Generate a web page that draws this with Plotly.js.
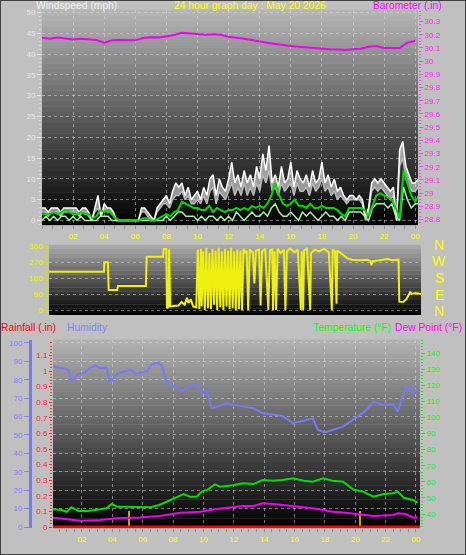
<!DOCTYPE html>
<html><head><meta charset="utf-8">
<script src="https://cdn.plot.ly/plotly-3.0.1.min.js"></script>
<style>html,body{margin:0;padding:0;background:#c0c0c0;}#chart{width:466px;height:555px;}</style>
</head><body><div id="chart"></div>
<script>
// ---------------- DATA ----------------
const hourTickVals = [2,4,6,8,10,12,14,16,18,20,22,24];
const hourTickText = ['02','04','06','08','10','12','14','16','18','20','22','00'];

// wind samples every 0.2 h starting at 00:00
const windStep = 0.2;
const windGust = [3,3,2,3,3, 3,2,3,3,3, 3,3,2,3,3, 2,0,3,6,1, 4,3,3,2,0, 0,0,0,0,0,
  0,0,3,3,2, 1,0,3,4,5, 6,4,7,9,8, 9,6,8,5,6, 7,5,8,6,10, 11,6,10,8,7,
  10,14,9,11,8, 12,9,11,8,13, 10,16,12,18,9, 11,8,13,9,10, 14,8,12,10,9, 11,8,12,9,10,
  14,9,11,8,10, 7,8,6,5,6, 6,5,6,5,1, 3,9,10,9,10, 9,8,7,8,0, 17,19,13,11,9, 9,10];
const windSpeed = [2,2,1,2,2, 2,1,2,2,2, 2,2,1,2,2, 1,0,2,3,1, 3,2,2,1,0, 0,0,0,0,0,
  0,0,2,2,1, 0,0,2,3,4, 4,3,5,6,6, 7,5,6,4,4, 5,4,6,4,7, 8,4,7,6,5,
  7,9,6,8,6, 9,6,8,6,9, 7,11,9,12,7, 8,6,9,7,8, 9,6,9,7,7, 8,6,9,7,8,
  10,7,8,6,7, 5,6,5,4,5, 5,5,5,4,0, 2,7,8,7,8, 7,6,5,6,0, 13,15,10,8,7, 7,8];
// average & minimum every 0.25 h
const avgStep = 0.25;
const windAvg = [1.5,1.5,1.5,2, 1.5,2,2.5,2, 1.5,1.5,2,1.5, 1.5,0.5,1,2.5, 2,2.5,1.5,0.5, 0,0,0,0,
  0,0,0.5,0.5, 0,0,0.5,1, 1.5,1,2,2.5, 4.5,4,3.5,3, 3,2.5,2.5,3.5, 2,3,2.5,2,
  2.5,2.5,3,2.5, 3,2.5,3.5,3, 3.5,3,4,6, 9,6,4,3.5, 4,5,3.5,3.5, 3,4,3,3,
  3.5,3,3,3, 2.5,1.5,1,3, 3,3,3,2.5, 1,3.5,6,6.5, 6,5.5,5,3, 0.5,12,9,6, 4.5,6];
const windMin = [0,1,0,1, 0,1,1,0, 1,0,1,0, 0,0,0,1, 1,1,0,0, 0,0,0,0,
  0,0,0,0, 0,0,0,0, 1,0,1,2, 2,1,1,1, 0,1,0,1, 1,0,1,0,
  1,0,2,1, 0,1,2,1, 1,2,1,3, 4,2,1,1, 2,1,0,2, 1,2,1,0,
  1,2,1,1, 0,1,0,2, 2,2,2,1, 0,3,4,4, 4,3,4,1, 0,8,5,3, 4,4];

// barometer every 0.5 h (inHg)
const baroStep = 0.5;
const baro = [30.177,30.17,30.18,30.175,30.165,30.17,30.167,30.16,30.14,30.158,30.16,30.158,30.158,
  30.175,30.182,30.18,30.19,30.198,30.215,30.21,30.205,30.2,30.205,30.2,30.185,30.18,30.17,30.16,
  30.148,30.14,30.13,30.12,30.115,30.11,30.105,30.095,30.092,30.09,30.088,30.085,30.09,30.095,
  30.11,30.115,30.1,30.1,30.1,30.14,30.155];
const baroTickVals = [28.8,28.9,29,29.1,29.2,29.3,29.4,29.5,29.6,29.7,29.8,29.9,30,30.1,30.2,30.3];
const baroTickText = ['28.8','28.9','29','29.1','29.2','29.3','29.4','29.5','29.6','29.7','29.8','29.9','30','30.1','30.2','30.3'];

// wind direction (degrees)
const dirHours = [0.45,4.0,4.02,4.25,4.3,4.85,4.9,6.7,6.75,7.8,7.85,8.02,8.06,8.15,8.2,8.27,8.5,8.8,9.0,9.2,9.35,9.45,9.6,9.75,9.95,
  10.05,10.15,10.25,10.3,10.4,10.5,10.6,10.7,10.8,10.9,11.0,11.1,11.2,11.3,11.4,11.5,11.6,11.7,11.8,11.9,
  12.0,12.1,12.2,12.3,12.4,12.5,12.6,12.7,12.8,12.9,13.0,13.1,13.2,13.3,13.4,13.6,13.7,13.8,14.0,14.1,14.2,14.4,
  14.6,14.7,14.85,14.9,15.0,15.1,15.2,15.4,15.6,15.7,15.8,16.0,16.3,16.5,16.7,16.75,16.85,16.9,17.1,17.3,17.35,
  17.6,17.9,18.2,18.5,18.7,18.75,18.9,19.0,19.05,19.3,19.5,19.7,20.0,20.5,21.0,21.2,21.25,21.35,21.7,22.0,22.3,
  22.6,22.95,23.0,23.05,23.3,23.5,23.75,23.85,24.1,24.45];
const dirDeg = [215,215,268,268,112,112,135,135,300,300,343,343,10,18,340,20,22,25,45,30,68,40,60,20,15,
  340,5,345,20,330,0,350,10,320,5,345,30,335,0,350,15,330,0,345,20,
  335,5,350,10,330,0,340,5,335,0,345,320,335,0,340,325,150,335,340,25,330,345,
  0,335,340,0,330,0,345,320,340,0,330,345,325,340,0,330,0,335,345,0,320,
  340,330,345,325,0,340,330,35,335,320,305,290,283,280,282,275,253,275,280,283,287,
  280,283,283,47,45,60,100,90,95,90];
const dirTickVals = [0,90,180,270,360];
const compassText = ['N','W','S','E','N'];   // top to bottom

// bottom panel
const humHours = [0.1,0.77,1.1,1.3,1.76,2.2,2.5,2.86,3.2,3.6,3.85,4.2,4.7,5.2,5.6,5.9,6.3,6.6,7.0,7.25,7.6,7.9,8.6,9.2,9.56,9.9,10.2,10.55,10.9,11.5,
  11.95,12.6,13.3,13.9,14.6,15.2,15.9,16.6,17.2,17.55,18.0,18.5,19.2,19.85,20.7,21.2,21.8,22.5,22.8,23.3,23.6,23.8,24.1];
const humidity = [87.1,86.3,85.3,79.3,83,84,86.3,87.7,86.3,86.6,78,82.6,84.4,85.3,83,84,84.8,88.4,89.3,88,78,77.2,73.9,76.8,77.5,72.6,74.5,64.5,65.4,67.2,
  66.5,65.4,64.5,61.8,60.9,60.3,56.4,57.6,59,52.7,51.4,52.7,54.5,58.2,63.2,68.1,66.3,66.7,62.7,75.7,76.3,72.7,75];
const tempHours = [0.1,0.66,1.0,1.3,1.76,2.4,3.2,3.6,3.96,4.3,4.9,5.8,6.5,7.1,7.8,8.2,8.7,9.1,9.55,9.9,10.3,10.75,11.1,11.95,
  12.6,13.3,13.9,14.6,15.2,15.9,16.6,17.2,17.9,18.5,19.2,19.85,20.5,21.2,21.8,22.5,22.8,23.2,23.8,24.1];
const temperature = [42.9,42.5,41.4,44.2,41.9,41.9,42.9,43.5,46.2,44.5,44.5,44.2,44.2,45.6,48.7,50.1,52.4,50.7,50.7,53.9,55.3,58.4,57,57.9,
  59.1,58.6,61.1,60.7,61.1,62.2,60.7,60.1,62.2,60.7,60.1,55.3,53.9,50.7,52.2,52.9,53.9,50.1,48.7,47];
const dewHours = [0.1,1.0,1.9,3.2,4.3,5.8,7.1,8.5,9.8,10.75,11.95,12.6,13.3,13.9,14.6,15.2,15.9,16.6,17.2,17.9,18.5,19.2,19.85,20.5,21.2,21.8,22.5,22.8,23.3,23.8,24.1];
const dewPoint = [37.7,36.7,35.8,36.3,37.3,37.9,38.8,40.8,41.4,42.9,44.5,45,45,46.6,46.2,45.6,45,44.2,43.5,42.5,41.4,41,40.4,39.4,38.8,39,39.4,40.4,40,37.9,37.9];
const rainTotalHours = [0,24.3];
const rainTotal = [0,0];
const rainRateHours = [5.08,20.3];
const rainRate = [0.1,0.1];
const humTicks = [0,10,20,30,40,50,60,70,80,90,100];
const rainTickVals = [0,0.1,0.2,0.3,0.4,0.5,0.6,0.7,0.8,0.9,1,1.1,1.2];
const rainTickText = ['0','0.1','0.2','0.3','0.4','0.5','0.6','0.7','0.8','0.9','1','1.1','1.2'];
const tempTicks = [40,50,60,70,80,90,100,110,120,130,140];

// ---------------- HELPERS ----------------
const W = 466, H = 555;
const px = v => v / W;
const py = v => 1 - v / H;
const hoursFor = (arr, step) => arr.map((_, i) => +(i * step).toFixed(3));
const FONT = 'Liberation Sans, Arial, sans-serif';
const GRID = 'rgba(215,215,215,0.55)';

function gradient(xref, yref, topV, botV, n) {
  const s = [];
  for (let i = 0; i < n; i++) {
    const v = Math.round(botV + (topV - botV) * (i + 0.5) / n);
    s.push({type:'rect', xref:xref, yref:yref, x0:0, x1:1, y0:i/n, y1:(i+1)/n + 0.002,
      fillcolor:`rgb(${v},${v},${v})`, line:{width:0}, layer:'below'});
  }
  return s;
}

// ---------------- TRACES ----------------
const traces = [
  {x: hoursFor(windSpeed, windStep), y: windSpeed, type:'scatter', mode:'lines', xaxis:'x', yaxis:'y',
   line:{color:'#b8b8b8', width:1.5}, hoverinfo:'skip'},
  {x: hoursFor(windGust, windStep), y: windGust, type:'scatter', mode:'lines', xaxis:'x', yaxis:'y',
   line:{color:'#ffffff', width:1.5}, fill:'tonexty', fillcolor:'rgba(235,235,235,0.6)', hoverinfo:'skip'},
  {x: hoursFor(windMin, avgStep), y: windMin, type:'scatter', mode:'lines', xaxis:'x', yaxis:'y',
   line:{color:'#a8f0a8', width:1.5}, hoverinfo:'skip'},
  {x: hoursFor(windAvg, avgStep), y: windAvg, type:'scatter', mode:'lines', xaxis:'x', yaxis:'y',
   line:{color:'#00d800', width:2}, hoverinfo:'skip'},
  {x: hoursFor(baro, baroStep), y: baro, type:'scatter', mode:'lines', xaxis:'x', yaxis:'y2',
   line:{color:'#f000f0', width:2}, hoverinfo:'skip'},
  {x: dirHours, y: dirDeg, type:'scatter', mode:'lines', xaxis:'x2', yaxis:'y3',
   line:{color:'#f0f010', width:2}, hoverinfo:'skip'},
  {x: humHours, y: humidity, type:'scatter', mode:'lines', xaxis:'x3', yaxis:'y4',
   line:{color:'#7878f8', width:2}, hoverinfo:'skip'},
  {x: rainRateHours, y: rainRate, type:'bar', xaxis:'x3', yaxis:'y5', width:0.13,
   marker:{color:'#c0a800', line:{width:0}}, hoverinfo:'skip'},
  {x: rainTotalHours, y: rainTotal, type:'scatter', mode:'lines', xaxis:'x3', yaxis:'y5',
   line:{color:'#ff0000', width:3}, hoverinfo:'skip', cliponaxis:false},
  {x: tempHours, y: temperature, type:'scatter', mode:'lines', xaxis:'x3', yaxis:'y6',
   line:{color:'#00e000', width:2}, hoverinfo:'skip'},
  {x: dewHours, y: dewPoint, type:'scatter', mode:'lines', xaxis:'x3', yaxis:'y6',
   line:{color:'#f000f0', width:2}, hoverinfo:'skip'}
];

// ---------------- LAYOUT ----------------
const tickF = c => ({family:FONT, size:8, color:c});
const xCommon = {
  tickmode:'array', tickvals:hourTickVals, ticktext:hourTickText, tickfont:tickF('#ffff00'),
  ticks:'outside', ticklen:3, tickcolor:'#909090', showgrid:true, gridcolor:GRID, griddash:'dot',
  gridwidth:1, zeroline:false, showline:true, linecolor:'#a8a8a8', linewidth:1, fixedrange:true
};

const shapes = [].concat(
  gradient('x domain','y domain',182,0,40),
  gradient('x2 domain','y3 domain',172,4,16),
  gradient('x3 domain','y4 domain',178,0,40),
  [{type:'rect', xref:'paper', yref:'paper', x0:0, x1:1, y0:0, y1:1, line:{color:'#404040', width:2}, fillcolor:'rgba(0,0,0,0)'}]
);

const ann = (text, x, y, color, size, anchor) => ({text:text, x:px(x), y:py(y), xref:'paper', yref:'paper',
  xanchor:anchor || 'left', yanchor:'middle', showarrow:false, font:{family:FONT, size:size, color:color}});

const TS = 10.3;
const annotations = [
  ann('Windspeed (mph)', 34, 5, '#f0f0f0', TS),
  ann('24 hour graph day : May 20 2026', 172, 5, '#ffff00', TS),
  ann('Barometer (.in)', 371, 5, '#ff00ff', TS),
  ann('Rainfall (.in)', -1, 327, '#ff0000', TS),
  ann('Humidity', 65, 327, '#8080ff', TS),
  ann('Temperature (°F)', 311, 327, '#00ff00', TS),
  ann('Dew Point (°F)', 393, 327, '#ff00ff', TS)
];
const compassY = [245, 261, 278, 295, 311];
compassText.forEach((t, i) => annotations.push(ann(t, 439, compassY[i], '#ffff00', 14, 'center')));

const layout = {
  width: W, height: H, margin:{l:0, r:0, t:0, b:0},
  paper_bgcolor:'#c0c0c0', plot_bgcolor:'rgba(0,0,0,0)', showlegend:false,
  font:{family:FONT, size:8},
  xaxis: Object.assign({}, xCommon, {domain:[px(42), px(418)], range:[0, 24.18], anchor:'y',
    minor:{dtick:2/3, tick0:0, ticklen:3, tickcolor:'#909090', showgrid:false}}),
  yaxis: {domain:[py(225), py(10)], range:[-1.1, 50.6], anchor:'x', tickmode:'linear', tick0:0, dtick:5,
    tickfont:tickF('#e8e8e8'), ticks:'outside', ticklen:4, tickcolor:'#e8e8e8',
    minor:{dtick:1, ticklen:2, tickcolor:'#d8d8d8', showgrid:false},
    showgrid:true, gridcolor:GRID, griddash:'dot', zeroline:false, showline:false, fixedrange:true},
  yaxis2: {overlaying:'y', side:'right', anchor:'x', range:[28.758, 30.388], tickmode:'array',
    tickvals:baroTickVals, ticktext:baroTickText, tickfont:tickF('#ff20ff'), ticks:'outside', ticklen:4,
    tickcolor:'#ff40ff', minor:{dtick:0.025, ticklen:2, tickcolor:'#ff40ff', showgrid:false},
    showgrid:false, zeroline:false, showline:false, fixedrange:true},
  xaxis2: {domain:[px(49), px(421)], range:[0.45, 24.45], anchor:'y3', showticklabels:false, ticks:'',
    showgrid:false, zeroline:false, showline:true, linecolor:'#000000', linewidth:2, fixedrange:true},
  yaxis3: {domain:[py(313), py(245)], range:[-16.9, 365.6], anchor:'x2', tickmode:'array', tickvals:dirTickVals,
    tickfont:tickF('#f0f000'), ticks:'outside', ticklen:4, tickcolor:'#e0e000',
    minor:{dtick:15, ticklen:2, tickcolor:'#e0e000', showgrid:false},
    showgrid:true, gridcolor:GRID, griddash:'dot', zeroline:false, showline:false, fixedrange:true},
  xaxis3: Object.assign({}, xCommon, {domain:[px(53), px(420)], range:[0.09, 24.27], anchor:'y4',
    minor:{dtick:0.5, tick0:0, ticklen:3, tickcolor:'#909090', showgrid:false}}),
  yaxis4: {domain:[py(528), py(340)], range:[-0.54, 101.6], anchor:'free', position:px(30), side:'left',
    tickmode:'array', tickvals:humTicks, tickfont:tickF('#8080ff'), ticks:'outside', ticklen:5, tickcolor:'#8080ff',
    showline:true, linecolor:'#7878ff', linewidth:3,
    showgrid:true, gridcolor:GRID, griddash:'dot', zeroline:false, fixedrange:true},
  yaxis5: {overlaying:'y4', anchor:'free', position:px(52), side:'left', range:[-0.0064, 1.199],
    tickmode:'array', tickvals:rainTickVals, ticktext:rainTickText, tickfont:tickF('#ff2020'),
    ticks:'outside', ticklen:3, tickcolor:'#ff2020',
    minor:{dtick:0.02, ticklen:2, tickcolor:'#ff3030', showgrid:false},
    showgrid:false, zeroline:false, showline:false, fixedrange:true},
  yaxis6: {overlaying:'y4', anchor:'x3', side:'right', range:[31.3, 148.1], tickmode:'array', tickvals:tempTicks,
    tickfont:tickF('#10f010'), ticks:'outside', ticklen:4, tickcolor:'#10f010',
    minor:{dtick:2, ticklen:2, tickcolor:'#10f010', showgrid:false},
    showgrid:false, zeroline:false, showline:false, fixedrange:true},
  bargap:0,
  shapes: shapes,
  annotations: annotations
};

Plotly.newPlot('chart', traces, layout, {displayModeBar:false, staticPlot:true});
</script>
</body></html>
